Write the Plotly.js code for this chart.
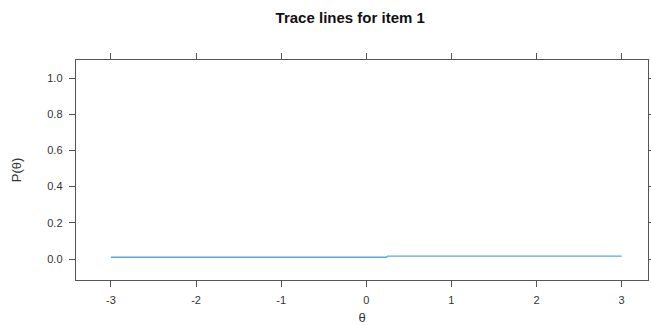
<!DOCTYPE html>
<html>
<head>
<meta charset="utf-8">
<script src="https://cdn.plot.ly/plotly-3.0.1.min.js"></script>
<style>html,body{margin:0;padding:0;background:#fff;}#chart{width:651px;height:325px;}</style>
</head>
<body>
<div id="chart"></div>
<script>
const theta = [-3, -2, -1, 0, 0.24, 0.25, 1, 2, 3];
const prob = [0.010, 0.010, 0.010, 0.010, 0.010, 0.016, 0.016, 0.016, 0.016];
const xTicks = [-3, -2, -1, 0, 1, 2, 3];
const yTicks = [0.0, 0.2, 0.4, 0.6, 0.8, 1.0];
const yTickText = ['0.0', '0.2', '0.4', '0.6', '0.8', '1.0'];

const axisCommon = {
  showline: true, linecolor: '#555', linewidth: 1.3, mirror: 'ticks',
  ticks: 'outside', ticklen: 6, tickcolor: '#555', tickwidth: 1,
  showgrid: false, zeroline: false,
  tickfont: {family: 'Liberation Sans, Arial, sans-serif', size: 11, color: '#333'}
};

Plotly.newPlot('chart', [{
  x: theta, y: prob, type: 'scatter', mode: 'lines',
  line: {color: '#5aa9de', width: 1.4}, hoverinfo: 'skip'
}], {
  width: 651, height: 325,
  margin: {l: 76, r: 3, t: 60, b: 45},
  paper_bgcolor: '#fff', plot_bgcolor: '#fff',
  showlegend: false,
  title: {text: '<b>Trace lines for item 1</b>', x: 0.538, xanchor: 'center', y: 0.945, yanchor: 'middle',
    font: {family: 'Liberation Sans, Arial, sans-serif', size: 15, color: '#111'}},
  xaxis: Object.assign({}, axisCommon, {
    range: [-3.41, 3.31], tickvals: xTicks, ticktext: xTicks.map(String),
    ticklabelstandoff: 3,
    title: {text: 'θ', standoff: 12, font: {family: 'Liberation Sans, Arial, sans-serif', size: 13, color: '#333'}}
  }),
  yaxis: Object.assign({}, axisCommon, {
    range: [-0.116, 1.1], tickvals: yTicks, ticktext: yTickText,
    ticklabelstandoff: 4,
    title: {text: 'P(θ)', standoff: 22, font: {family: 'Liberation Sans, Arial, sans-serif', size: 13, color: '#333'}}
  })
}, {displayModeBar: false, staticPlot: true});
</script>
</body>
</html>
